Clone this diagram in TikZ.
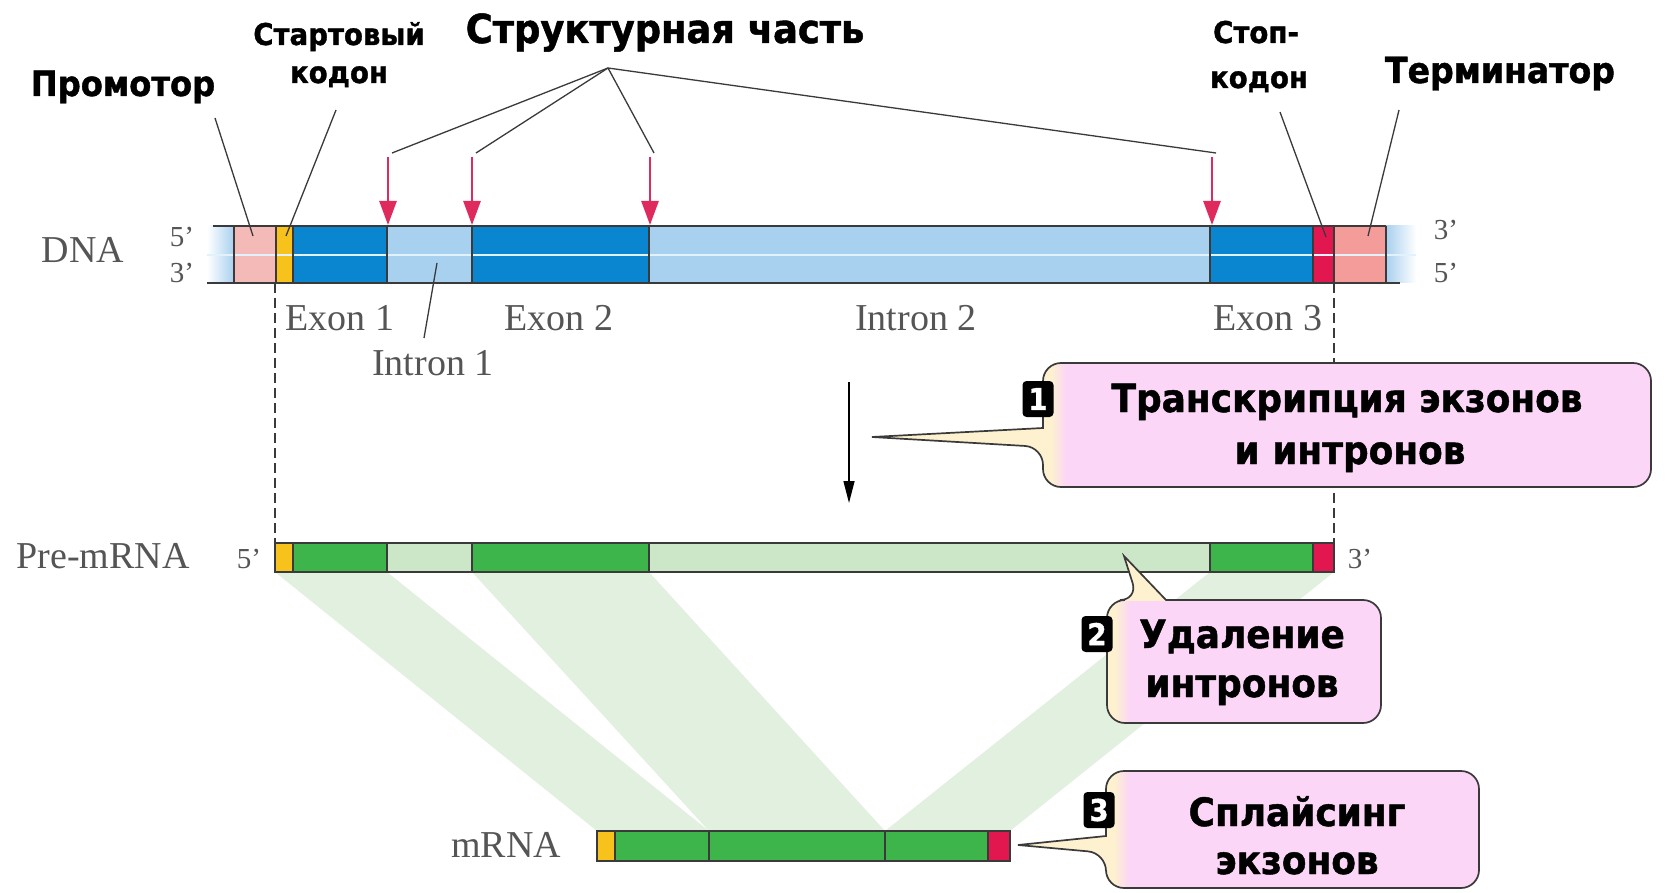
\documentclass[tikz,border=0pt]{standalone}
\usepackage{fontspec}
\setmainfont{Liberation Serif}
\newfontfamily\headfont{DejaVu Sans}[FakeStretch=0.92, FakeBold=1.2]
\usetikzlibrary{arrows.meta}

\definecolor{exonblue}{HTML}{0A86D0}
\definecolor{intronblue}{HTML}{A8D0EF}
\definecolor{strandline}{HTML}{E2F2FC}
\definecolor{promoterpink}{HTML}{F4BAB8}
\definecolor{termpink}{HTML}{F49C9A}
\definecolor{startyellow}{HTML}{F7C21B}
\definecolor{stopred}{HTML}{E3174F}
\definecolor{arrowred}{HTML}{DF2A5E}
\definecolor{exongreen}{HTML}{3DB54A}
\definecolor{introngreen}{HTML}{CBE7C8}
\definecolor{bandgreen}{HTML}{E2F0E0}
\definecolor{calloutpink}{HTML}{FBD6F6}
\definecolor{calloutcream}{HTML}{FDF1CF}
\definecolor{outline}{HTML}{3A3A3A}
\definecolor{labelgray}{HTML}{555555}

\tikzset{
  bar/.style={draw=outline, line width=1.4pt},
  leader/.style={draw=outline, line width=1.3pt},
  dashline/.style={draw=outline, line width=1.2pt, dash pattern=on 10pt off 5pt},
  redarrow/.style={draw=arrowred, line width=2.6pt, -{Triangle[length=24pt,width=17pt]}},
  flowarrow/.style={draw=black, line width=1.4pt, -{Triangle[length=22pt,width=11pt]}},
  boldlabel/.style={font=\headfont\bfseries\fontsize{#1}{#1}\selectfont, text=black, inner sep=0pt, anchor=base},
  seriflabel/.style={font=\fontsize{#1}{#1}\selectfont, text=labelgray, inner sep=0pt, anchor=base},
  badge/.style={fill=black, rounded corners=4pt, minimum width=31pt, minimum height=36pt, inner sep=0pt,
    text=white, font=\headfont\bfseries\fontsize{30}{30}\selectfont},
  callout border/.style={draw=outline, line width=1.7pt},
}

% outlines of the three callout boxes (box, then the pointer wedge)
\def\calloutone{(1043,428) [rounded corners=18pt] -- (1043,363) -- (1651,363) -- (1651,487) -- (1043,487) -- (1043,447) [sharp corners] -- (872,437) -- cycle}
\def\callouttwo{(1166,600) [rounded corners=18pt] -- (1381,600) -- (1381,723) -- (1107,723) -- (1107,600) -- (1138,600) [sharp corners] -- (1124,556) -- cycle}
\def\calloutthree{(1106,836) [rounded corners=18pt] -- (1106,771) -- (1479,771) -- (1479,888) -- (1106,888) -- (1106,853) [sharp corners] -- (1018,845) -- cycle}

\begin{document}
\begin{tikzpicture}[x=1pt,y=-1pt]
\useasboundingbox (0,0) rectangle (1667,893);
\fill[white] (0,0) rectangle (1667,893);

% ---------- green bands joining exons of pre-mRNA and mRNA ----------
\fill[bandgreen] (275,572) -- (387,572) -- (709,831) -- (597,831) -- cycle;
\fill[bandgreen] (472,572) -- (649,572) -- (885,831) -- (709,831) -- cycle;
\fill[bandgreen] (1210,572) -- (1334,572) -- (1010,831) -- (885,831) -- cycle;

% ---------- DNA duplex ----------
\shade[left color=white, right color=intronblue] (207,226) rectangle (234,283);
\shade[left color=intronblue, right color=white] (1386,226) rectangle (1416,283);
\fill[promoterpink] (234,226) rectangle (276,283);
\fill[startyellow] (276,226) rectangle (293,283);
\fill[exonblue] (293,226) rectangle (387,283);
\fill[intronblue] (387,226) rectangle (472,283);
\fill[exonblue] (472,226) rectangle (649,283);
\fill[intronblue] (649,226) rectangle (1210,283);
\fill[exonblue] (1210,226) rectangle (1313,283);
\fill[stopred] (1313,226) rectangle (1334,283);
\fill[termpink] (1334,226) rectangle (1386,283);
\draw[strandline, line width=2.6pt] (207,255) -- (1416,255);
\draw[bar] (213,226) -- (1386,226);
\draw[bar] (207,283) -- (1400,283);
\foreach \x in {234,276,293,387,472,649,1210,1313,1334,1386}
  \draw[bar] (\x,226) -- (\x,283);

% ---------- dashed guides ----------
\coordinate (gl1) at (275,283); \coordinate (gl2) at (275,543);
\coordinate (gr1) at (1334,283); \coordinate (gr2) at (1334,543);
\draw[dashline] (gl1) -- (gl2);
\draw[dashline] (gr1) -- (gr2);

% ---------- pre-mRNA ----------
\fill[startyellow] (275,543) rectangle (293,572);
\fill[exongreen] (293,543) rectangle (387,572);
\fill[introngreen] (387,543) rectangle (472,572);
\fill[exongreen] (472,543) rectangle (649,572);
\fill[introngreen] (649,543) rectangle (1210,572);
\fill[exongreen] (1210,543) rectangle (1313,572);
\fill[stopred] (1313,543) rectangle (1334,572);
\draw[bar] (275,543) rectangle (1334,572);
\foreach \x in {293,387,472,649,1210,1313}
  \draw[bar] (\x,543) -- (\x,572);

% ---------- mRNA ----------
\fill[startyellow] (597,831) rectangle (615,861);
\fill[exongreen] (615,831) rectangle (988,861);
\fill[stopred] (988,831) rectangle (1010,861);
\draw[bar] (597,831) rectangle (1010,861);
\foreach \x in {615,709,885,988}
  \draw[bar] (\x,831) -- (\x,861);

% ---------- top labels ----------
\node[boldlabel=35] (promoter) at (123,96) {Промотор};
\node[boldlabel=30] (start1) at (339,45) {Стартовый};
\node[boldlabel=30] (start2) at (339,83) {кодон};
\node[boldlabel=40] (struct) at (665,43) {Структурная часть};
\node[boldlabel=30] (stop1) at (1256,43) {Стоп-};
\node[boldlabel=30] (stop2) at (1259,88) {кодон};
\node[boldlabel=36] (term) at (1500,83) {Терминатор};

% leaders to the DNA segments
\coordinate (pl1) at (215,118); \coordinate (pl2) at (253,236);
\coordinate (sl1) at (336,110); \coordinate (sl2) at (286,236);
\coordinate (ql1) at (1280,112); \coordinate (ql2) at (1326,237);
\coordinate (tl1) at (1399,110); \coordinate (tl2) at (1368,236);
\draw[leader] (pl1) -- (pl2);
\draw[leader] (sl1) -- (sl2);
\draw[leader] (ql1) -- (ql2);
\draw[leader] (tl1) -- (tl2);

% exon/intron boundaries of the coding part
\coordinate (apex) at (608,68);
\foreach \x [count=\i] in {388,472,650,1212} {
  \coordinate (top\i) at (\x,157);
  \coordinate (tip\i) at (\x,225);
  \coordinate (lead\i) at (\x+4,153);
  \draw[leader] (apex) -- (lead\i);
  \draw[redarrow] (top\i) -- (tip\i);
}

% ---------- strand and region labels ----------
\node[seriflabel=38] (dna) at (83,263) {DNA};
\node[seriflabel=29] (l5) at (182,247) {5’};
\node[seriflabel=29] (l3) at (182,283) {3’};
\node[seriflabel=29] (r3) at (1446,240) {3’};
\node[seriflabel=29] (r5) at (1446,283) {5’};
\node[seriflabel=38] (ex1) at (340,330) {Exon 1};
\node[seriflabel=38] (in1) at (433,375) {Intron 1};
\node[seriflabel=38] (ex2) at (559,330) {Exon 2};
\node[seriflabel=38] (in2) at (916,330) {Intron 2};
\node[seriflabel=38] (ex3) at (1268,330) {Exon 3};
\coordinate (il1) at (437,263); \coordinate (il2) at (424,338);
\draw[leader] (il1) -- (il2);

\node[seriflabel=38] (pre) at (103,568) {Pre-mRNA};
\node[seriflabel=29] (p5) at (249,568) {5’};
\node[seriflabel=29] (p3) at (1360,568) {3’};
\node[seriflabel=38] (mrna) at (506,857) {mRNA};

% transcription arrow
\coordinate (tr1) at (849,382); \coordinate (tr2) at (849,503);
\draw[flowarrow] (tr1) -- (tr2);

% ---------- callouts ----------
\fill[calloutpink] \calloutone;
\begin{scope}
  \clip \calloutone;
  \fill[calloutcream] (850,350) rectangle (1052,500);
  \shade[left color=calloutcream, right color=calloutpink] (1051,350) rectangle (1066,500);
\end{scope}
\draw[callout border] \calloutone;

\fill[calloutpink] \callouttwo;
\begin{scope}
  \clip \callouttwo;
  \fill[calloutcream] (1090,540) rectangle (1200,601);
  \fill[calloutcream] (1090,540) rectangle (1116,740);
  \shade[left color=calloutcream, right color=calloutpink] (1115,601) rectangle (1130,740);
\end{scope}
\draw[callout border] \callouttwo;

\fill[calloutpink] \calloutthree;
\begin{scope}
  \clip \calloutthree;
  \fill[calloutcream] (1000,760) rectangle (1115,893);
  \shade[left color=calloutcream, right color=calloutpink] (1114,760) rectangle (1129,893);
\end{scope}
\draw[callout border] \calloutthree;

\node[badge] (b1) at (1038,399) {1};
\node[badge] (b2) at (1097,634) {2};
\node[badge] (b3) at (1099,810) {3};

\node[boldlabel=39] (c1a) at (1347,412) {Транскрипция экзонов};
\node[boldlabel=39] (c1b) at (1350,464) {и интронов};
\node[boldlabel=39] (c2a) at (1242,648) {Удаление};
\node[boldlabel=39] (c2b) at (1242,697) {интронов};
\node[boldlabel=39] (c3a) at (1297,826) {Сплайсинг};
\node[boldlabel=39] (c3b) at (1297,874) {экзонов};
\end{tikzpicture}
\end{document}
